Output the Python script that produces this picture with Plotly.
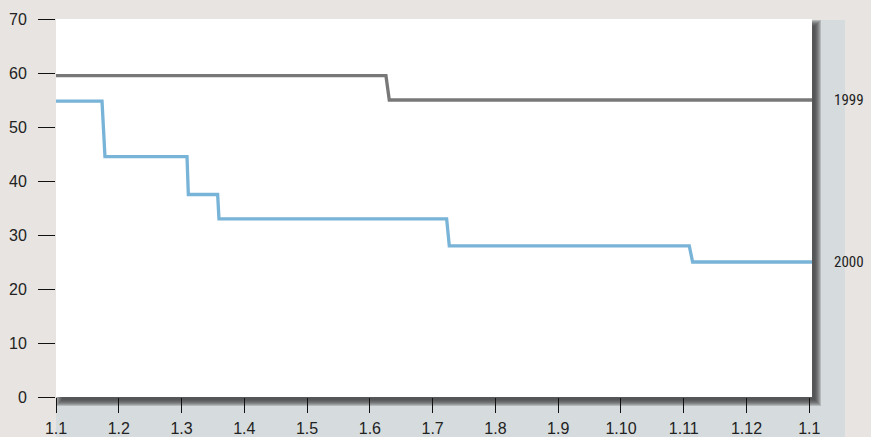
import plotly.graph_objects as go

# Data (x = months since 1 Jan; steps drawn with a one-day slant)
tick_vals = list(range(13))
tick_text = ["1.1", "1.2", "1.3", "1.4", "1.5", "1.6", "1.7", "1.8", "1.9", "1.10", "1.11", "1.12", "1.1"]

x_1999 = [0, 5.256, 5.309, 12.043]
y_1999 = [59.5, 59.5, 55, 55]

x_2000 = [0, 0.733, 0.78, 2.087, 2.108, 2.575, 2.596, 6.223, 6.265, 10.088, 10.141, 12.043]
y_2000 = [54.8, 54.8, 44.5, 44.5, 37.5, 37.5, 33, 33, 28, 28, 25, 25]

W, H = 871, 437
L, R, T, B = 56, 59, 19, 40
PW, PH = W - L - R, H - T - B

def px(x):
    return (x - L) / PW

def py(y):
    return (H - B - y) / PH

fig = go.Figure()

fig.add_trace(go.Scatter(x=x_1999, y=y_1999, mode="lines", line=dict(color="#787878", width=3.3),
                         hoverinfo="skip", showlegend=False))
fig.add_trace(go.Scatter(x=x_2000, y=y_2000, mode="lines", line=dict(color="#78b3d8", width=3.3),
                         hoverinfo="skip", showlegend=False))

shapes = []
# bluish card behind the plot
shapes.append(dict(type="rect", xref="paper", yref="paper", layer="below",
                   x0=px(56), x1=px(845), y0=py(445), y1=py(20),
                   fillcolor="#d6dcdd", line=dict(width=0)))
# blurred drop shadow
for k in range(7):
    e = 6 - k
    shapes.append(dict(type="rect", xref="paper", yref="paper", layer="below",
                       x0=px(62 - e), x1=px(815 + e), y0=py(400 + e), y1=py(26 - e),
                       fillcolor="rgba(60,60,60,0.22)", line=dict(width=0)))
# white plot area
shapes.append(dict(type="rect", xref="paper", yref="paper", layer="below",
                   x0=0, x1=1, y0=0, y1=1, fillcolor="#ffffff", line=dict(width=0)))

label_font = dict(family="Liberation Sans Narrow, Arial Narrow, Roboto Condensed, Liberation Sans, Arial",
                  size=15, color="#222")
annotations = [
    dict(x=px(832), xref="paper", y=y_1999[-1], yref="y", text="1999", showarrow=False,
         xanchor="left", yanchor="middle", font=label_font),
    dict(x=px(832), xref="paper", y=y_2000[-1], yref="y", text="2000", showarrow=False,
         xanchor="left", yanchor="middle", font=label_font),
]

fig.update_layout(
    width=W, height=H,
    margin=dict(l=L, r=R, t=T, b=B, pad=0, autoexpand=False),
    paper_bgcolor="#e7e4e1",
    plot_bgcolor="rgba(0,0,0,0)",
    font=dict(family="Liberation Sans, Arial, sans-serif", size=16, color="#222"),
    shapes=shapes,
    annotations=annotations,
    xaxis=dict(range=[0, 12.043], tickmode="array", tickvals=tick_vals, ticktext=tick_text,
               ticks="outside", ticklen=15, tickcolor="#111", tickwidth=1.2,
               showgrid=False, zeroline=False, showline=False, ticklabelstandoff=2,
               automargin=False, tickfont=dict(size=16, color="#222")),
    yaxis=dict(range=[0, 70], tickmode="array", tickvals=[0, 10, 20, 30, 40, 50, 60, 70],
               ticks="outside", ticklen=17, tickcolor="#111", tickwidth=1.2,
               showgrid=False, zeroline=False, showline=False, ticklabelstandoff=8,
               automargin=False, tickfont=dict(size=16, color="#222")),
)

fig.write_html("out.html", config={"displayModeBar": False},
               post_script="document.body.style.margin='0px';document.body.style.padding='0px';document.body.style.overflow='hidden';")
